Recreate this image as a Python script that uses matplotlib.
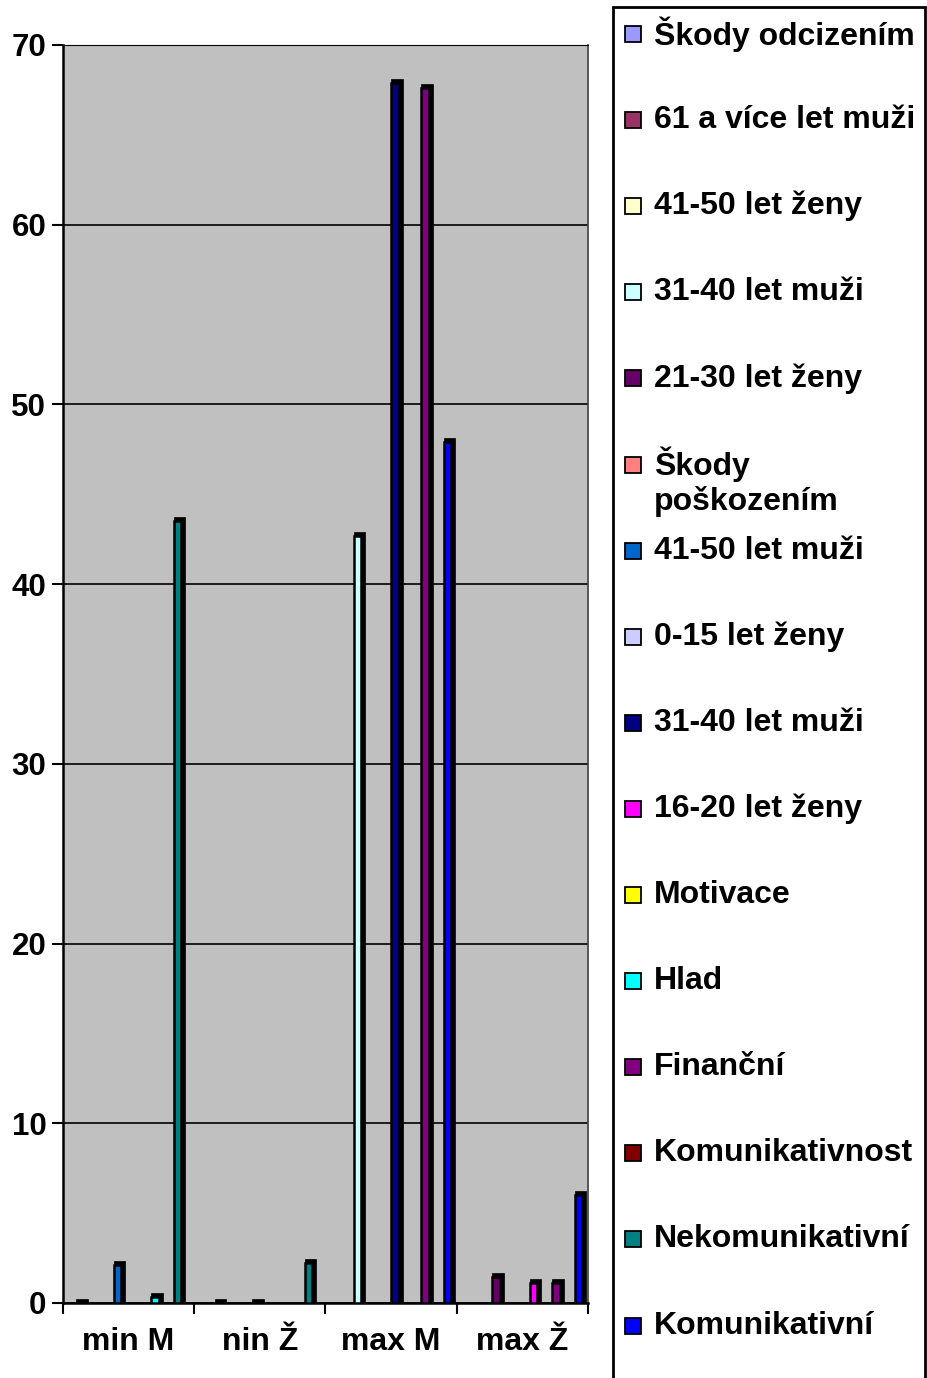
import numpy as np
import matplotlib
matplotlib.use("Agg")
import matplotlib.pyplot as plt
from matplotlib.patches import Rectangle

plt.rcParams['font.family'] = ['Liberation Sans', 'DejaVu Sans']
plt.rcParams['font.weight'] = 'bold'

categories = ["min M", "nin Ž", "max M", "max Ž"]

series_names = [
    "Škody odcizením", "61 a více let muži", "41-50 let ženy", "31-40 let muži",
    "21-30 let ženy", "Škody\npoškozením", "41-50 let muži", "0-15 let ženy",
    "31-40 let muži", "16-20 let ženy", "Motivace", "Hlad",
    "Finanční", "Komunikativnost", "Nekomunikativní", "Komunikativní",
]
series_colors = [
    "#9999FF", "#993366", "#FFFFCC", "#CCFFFF",
    "#660066", "#FF8080", "#0066CC", "#CCCCFF",
    "#000080", "#FF00FF", "#FFFF00", "#00FFFF",
    "#800080", "#800000", "#008080", "#0000FF",
]
nan = np.nan
skody_odcizenim   = [nan, nan, nan, nan]
muzi_61           = [0.0, nan, nan, nan]
zeny_41_50        = [nan, 0.0, nan, nan]
muzi_31_40_a      = [nan, nan, 42.7, nan]
zeny_21_30        = [nan, nan, nan, 1.45]
skody_poskozenim  = [nan, nan, nan, nan]
muzi_41_50        = [2.1, nan, nan, nan]
zeny_0_15         = [nan, 0.0, nan, nan]
muzi_31_40_b      = [nan, nan, 67.9, nan]
zeny_16_20        = [nan, nan, nan, 1.1]
motivace          = [nan, nan, nan, nan]
hlad              = [0.35, nan, nan, nan]
financni          = [nan, nan, 67.6, 1.1]
komunikativnost   = [nan, nan, nan, nan]
nekomunikativni   = [43.5, 2.2, nan, nan]
komunikativni     = [nan, nan, 47.9, 6.0]

series_values = [
    skody_odcizenim, muzi_61, zeny_41_50, muzi_31_40_a,
    zeny_21_30, skody_poskozenim, muzi_41_50, zeny_0_15,
    muzi_31_40_b, zeny_16_20, motivace, hlad,
    financni, komunikativnost, nekomunikativni, komunikativni,
]

W, H = 928, 1378
fig = plt.figure(figsize=(W / 100, H / 100), dpi=100)
fig.patch.set_facecolor("white")

ax_l, ax_r, ax_t, ax_b = 63, 588, 45, 1303
ax = fig.add_axes([ax_l / W, 1 - ax_b / H, (ax_r - ax_l) / W, (ax_b - ax_t) / H])
ax.set_facecolor("#C0C0C0")

n = len(series_names)
slots = n + 1.5
slot = 1.0 / slots
px_x = 4.0 / (ax_r - ax_l)          # data units per pixel (x)
px_y = 70.0 / (ax_b - ax_t)         # data units per pixel (y)
bar_w = 7.5 * px_x
dx, dy = 4.0 * px_x, 4.0 * px_y

x = np.arange(len(categories))
for i, (vals, col) in enumerate(zip(series_values, series_colors)):
    off = -0.5 + (0.75 + i + 0.5) * slot
    v = np.array(vals, dtype=float)
    # 3D depth (dark side/top)
    ax.bar(x + off + dx * 0.5, v + dy, width=bar_w + dx, color="black",
           edgecolor="black", linewidth=0.5, zorder=3)
    ax.bar(x + off, v, width=bar_w, color=col, edgecolor="black",
           linewidth=1.8, zorder=4)

ax.set_xlim(-0.5, 3.5)
ax.set_ylim(0, 70)
ax.set_yticks(np.arange(0, 71, 10))
ax.yaxis.grid(True, color="black", linewidth=1.2, zorder=1)
ax.set_axisbelow(True)

ax.set_xticks(np.arange(-0.5, 3.6, 1.0))
ax.set_xticklabels([])
ax.set_xticks(x, minor=True)
ax.set_xticklabels(categories, minor=True)
ax.tick_params(axis="x", which="major", direction="out", length=8, width=1.5, color="black")
ax.tick_params(axis="x", which="minor", length=0, pad=17, labelsize=23)
ax.tick_params(axis="y", direction="out", length=8, width=1.5, pad=4, labelsize=22.5)
for lab in ax.get_xticklabels(minor=True) + ax.get_yticklabels():
    lab.set_fontweight("bold")

for s in ["left", "bottom"]:
    ax.spines[s].set_color("black")
    ax.spines[s].set_linewidth(1.8)
ax.spines["top"].set_color("black")
ax.spines["right"].set_color("#404040")
ax.spines["right"].set_linewidth(1.2)

# Legend (drawn manually to match layout)
leg_l, leg_r, leg_t = 613, 925, 7
fig.add_artist(Rectangle((leg_l / W, -0.05), (leg_r - leg_l) / W, 1.05 - leg_t / H,
                         transform=fig.transFigure, facecolor="white",
                         edgecolor="black", linewidth=2, zorder=1))
y0, step = 34, 86.1
msz = 16
for i, (name, col) in enumerate(zip(series_names, series_colors)):
    yc = y0 + step * i
    fig.add_artist(Rectangle((625 / W, 1 - (yc + msz / 2) / H), msz / W, msz / H,
                             transform=fig.transFigure, facecolor=col,
                             edgecolor="black", linewidth=1.3, zorder=3))
    lines = name.split("\n")
    for j, ln in enumerate(lines):
        fig.text(654 / W, 1 - (yc + 37 * j) / H, ln, fontsize=23, fontweight="bold",
                 ha="left", va="center", zorder=4)

fig.savefig("out.png", dpi=100, facecolor="white")
